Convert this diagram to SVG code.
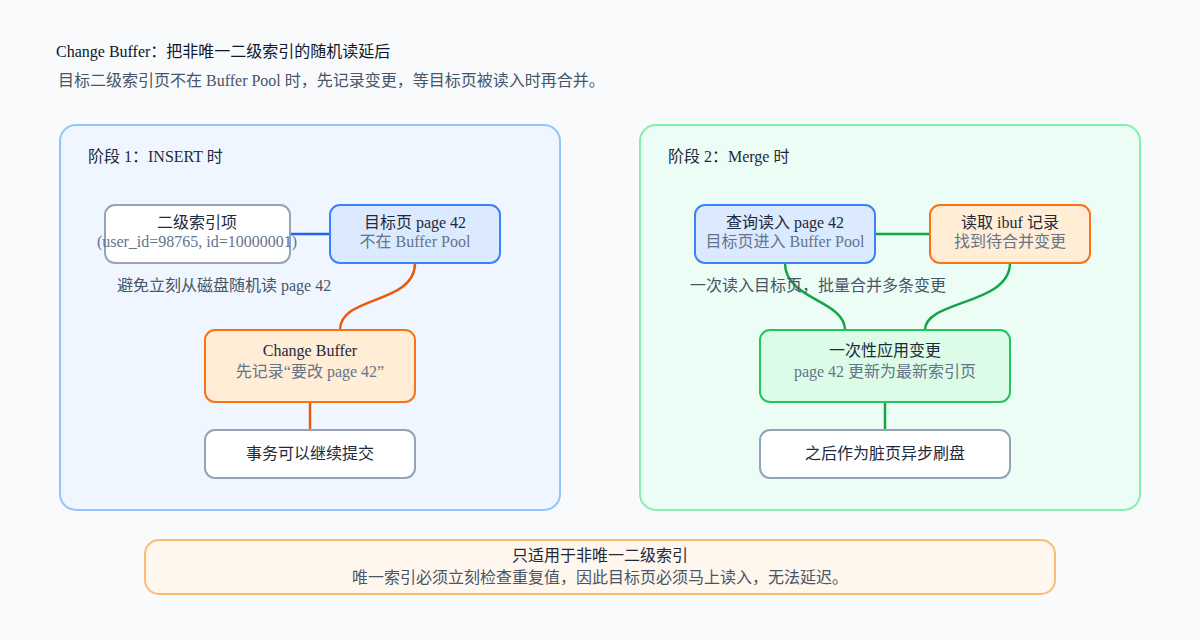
<svg xmlns="http://www.w3.org/2000/svg" width="1200" height="640" viewBox="0 0 1200 640">
<defs>
<style>
text{font-family:"Liberation Serif","Noto Sans CJK SC",serif;font-size:16px;dominant-baseline:middle}
.t{fill:#1e293b}
.s{fill:#64748b}
.lab{fill:#475569}
.c{text-anchor:middle}
.white{fill:#ffffff;stroke:#94a3b8;stroke-width:2}
.blue{fill:#dbeafe;stroke:#3b82f6;stroke-width:2}
.orange{fill:#ffedd5;stroke:#f97316;stroke-width:2}
.green{fill:#dcfce7;stroke:#22c55e;stroke-width:2}
.conn path{fill:none;stroke-width:2.5}
</style>
</defs>
<rect width="1200" height="640" fill="#f8fafc"/>
<text x="56" y="53" fill="#0f172a">Change Buffer：把非唯一二级索引的随机读延后</text>
<text x="58" y="82" fill="#475569">目标二级索引页不在 Buffer Pool 时，先记录变更，等目标页被读入时再合并。</text>

<g id="panel1">
<rect x="60" y="125" width="500" height="385" rx="16" fill="#eff6ff" stroke="#93c5fd" stroke-width="2"/>
<text x="88" y="158" class="t">阶段 1：INSERT 时</text>
</g>
<g id="panel2">
<rect x="640" y="125" width="500" height="385" rx="16" fill="#ecfdf5" stroke="#86efac" stroke-width="2"/>
<text x="668" y="158" class="t">阶段 2：Merge 时</text>
</g>

<g class="conn" id="connectors">
<path d="M290 234 H330" stroke="#2563eb"/>
<path d="M415 263 C415 305 340 295 340 330" stroke="#ea580c"/>
<path d="M310 402 V430" stroke="#ea580c"/>
<path d="M875 234 H930" stroke="#16a34a"/>
<path d="M785 263 C785 300 845 300 845 330" stroke="#16a34a"/>
<path d="M1010 263 C1010 305 925 300 925 330" stroke="#16a34a"/>
<path d="M885 402 V430" stroke="#16a34a"/>
</g>

<text x="117" y="287" class="lab">避免立刻从磁盘随机读 page 42</text>
<text x="690" y="287" class="lab">一次读入目标页，批量合并多条变更</text>

<g id="n-index">
<rect x="105" y="205" width="185" height="58" rx="10" class="white"/>
<text x="197" y="224" class="t c">二级索引项</text>
<text x="197" y="243" class="s c">(user_id=98765, id=10000001)</text>
</g>
<g id="n-target">
<rect x="330" y="205" width="170" height="58" rx="10" class="blue"/>
<text x="415" y="224" class="t c">目标页 page 42</text>
<text x="415" y="243" class="s c">不在 Buffer Pool</text>
</g>
<g id="n-cb">
<rect x="205" y="330" width="210" height="72" rx="10" class="orange"/>
<text x="310" y="352" class="t c">Change Buffer</text>
<text x="310" y="373" class="s c">先记录“要改 page 42”</text>
</g>
<g id="n-commit">
<rect x="205" y="430" width="210" height="48" rx="10" class="white"/>
<text x="310" y="455" class="t c">事务可以继续提交</text>
</g>

<g id="n-read">
<rect x="695" y="205" width="180" height="58" rx="10" class="blue"/>
<text x="785" y="224" class="t c">查询读入 page 42</text>
<text x="785" y="243" class="s c">目标页进入 Buffer Pool</text>
</g>
<g id="n-ibuf">
<rect x="930" y="205" width="160" height="58" rx="10" class="orange"/>
<text x="1010" y="224" class="t c">读取 ibuf 记录</text>
<text x="1010" y="243" class="s c">找到待合并变更</text>
</g>
<g id="n-apply">
<rect x="760" y="330" width="250" height="72" rx="10" class="green"/>
<text x="885" y="352" class="t c">一次性应用变更</text>
<text x="885" y="373" class="s c">page 42 更新为最新索引页</text>
</g>
<g id="n-flush">
<rect x="760" y="430" width="250" height="48" rx="10" class="white"/>
<text x="885" y="455" class="t c">之后作为脏页异步刷盘</text>
</g>

<g id="note">
<rect x="145" y="540" width="910" height="54" rx="14" fill="#fff7ed" stroke="#fdba74" stroke-width="2"/>
<text x="600" y="557" class="t c">只适用于非唯一二级索引</text>
<text x="600" y="579" class="lab c">唯一索引必须立刻检查重复值，因此目标页必须马上读入，无法延迟。</text>
</g>
</svg>
